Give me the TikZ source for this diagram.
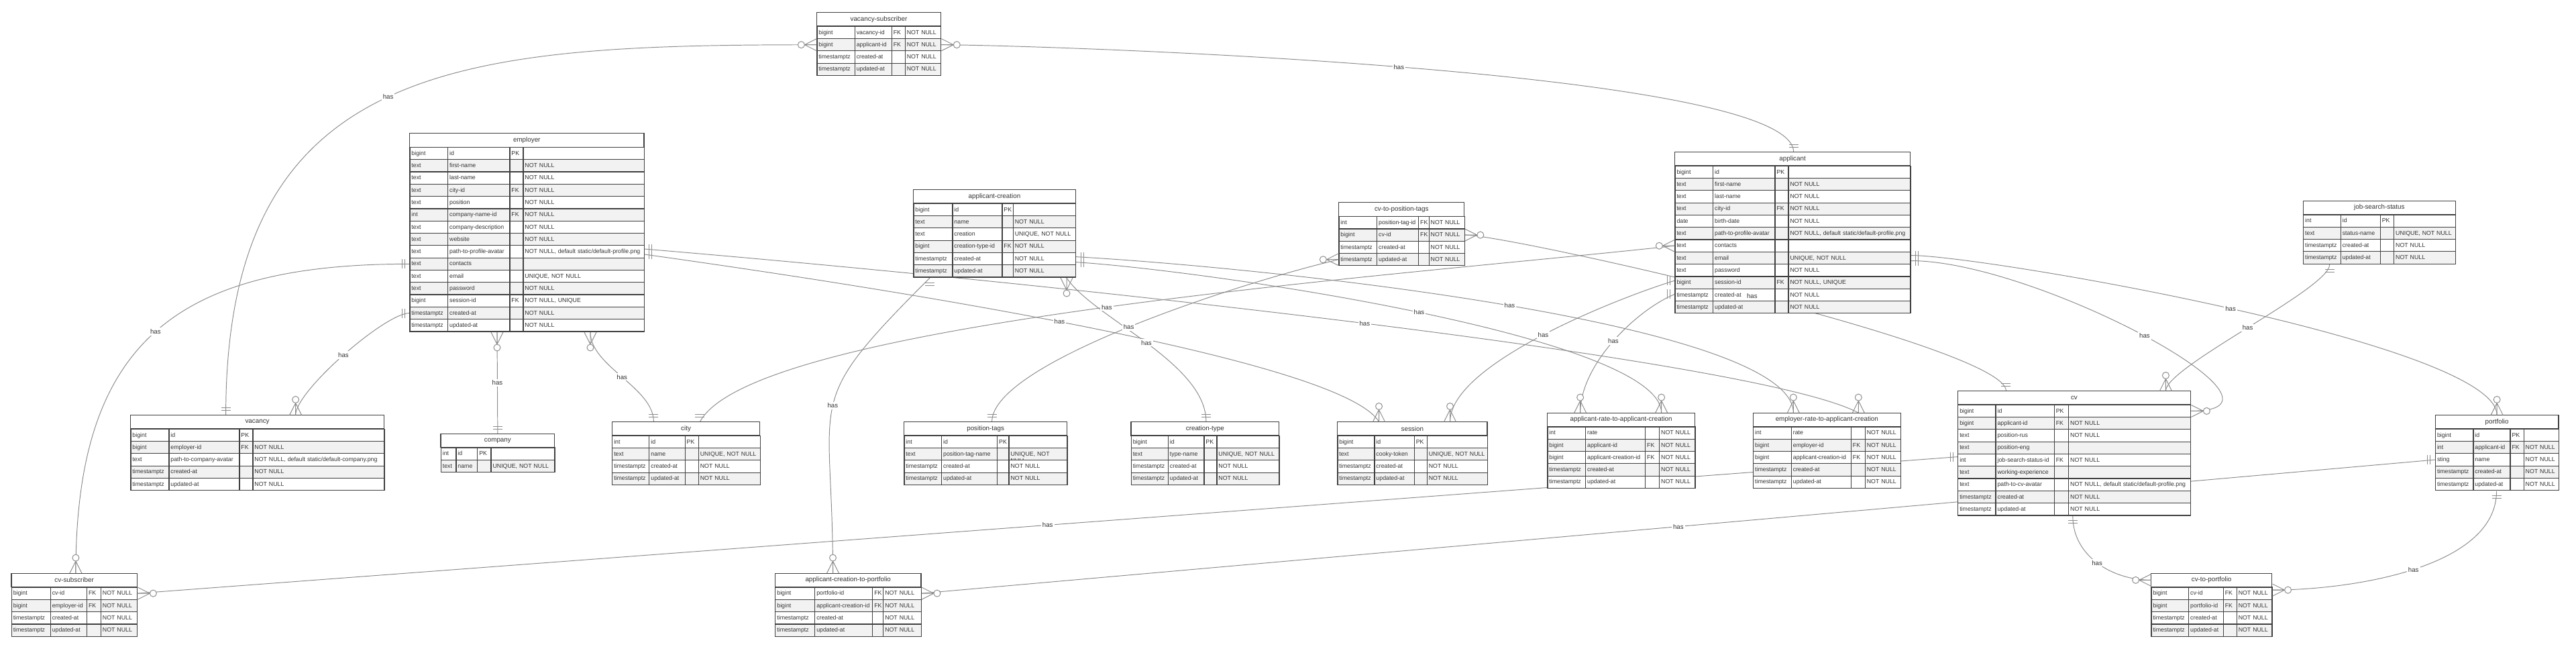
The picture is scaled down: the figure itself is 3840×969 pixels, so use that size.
\documentclass[tikz,border=0pt]{standalone}
\usepackage{fontspec}
\setmainfont{Liberation Sans}
\usetikzlibrary{matrix,calc}

\definecolor{tabline}{HTML}{404040}
\definecolor{rowfill}{HTML}{F2F2F2}
\definecolor{celltext}{HTML}{333333}
\definecolor{linkgray}{HTML}{8C8C8C}

\pgfdeclarelayer{bg}
\pgfsetlayers{bg,main}

\tikzset{
  cell/.style={draw=tabline, line width=0.7pt, text=celltext, font=\fontsize{5}{6}\selectfont,
    align=left, inner xsep=0.5mm, inner ysep=0pt, text height=2.36mm, text depth=1.3mm},
  every odd row/.style={nodes={fill=white}},
  every even row/.style={nodes={fill=rowfill}},
  ertable/.style={matrix of nodes, nodes in empty cells, anchor=north west, inner sep=0pt,
    column sep=-0.7pt, row sep=-0.7pt, nodes={cell}},
  cols/.style n args={4}{
    column 1/.style={nodes={text width={(#1-5)*0.2mm}}},
    column 2/.style={nodes={text width={(#2-5)*0.2mm}}},
    column 3/.style={nodes={text width={(#3-5)*0.2mm}}},
    column 4/.style={nodes={text width={(#4-5)*0.2mm}}}},
  erhead/.style={draw=tabline, line width=0.7pt, fill=white, text=celltext,
    font=\fontsize{5.6}{6.5}\selectfont, minimum width={#1*0.2mm}, minimum height=4.1mm,
    inner sep=0pt, outer sep=0pt, anchor=south west, shift={(0.35pt,-0.35pt)}},
  link/.style={draw=linkgray, line width=0.55pt},
  haslabel/.style={fill=white, text=celltext, font=\fontsize{5.5}{6}\selectfont, inner sep=0.4mm},
  crowone/.pic={\draw[link] (-7,-7) -- (-7,7) (-11,-7) -- (-11,7);},
  crowmany/.pic={\draw[link] (0,-9) -- (-18,0) -- (0,9) (-18,0) -- (0,0);
    \draw[link, fill=white] (-23,0) circle (5);}
}

\begin{document}
\begin{tikzpicture}[x=0.2mm, y=-0.2mm]

\useasboundingbox (0,0) rectangle (3840,969);

\matrix (vacsub) [ertable, cols={56.3}{55}{20}{53.4}] at (1217,38.3) {
bigint & vacancy-id & FK & NOT NULL \\
bigint & applicant-id & FK & NOT NULL \\
timestamptz & created-at & & NOT NULL \\
timestamptz & updated-at & & NOT NULL \\
};
\node (vacsub-head) [erhead=184.7] at (vacsub.north west) {vacancy-subscriber};

\matrix (employer) [ertable, cols={56.7}{92.3}{20}{180.3}] at (610,218.5) {
bigint & id & PK & \\
text & first-name & & NOT NULL \\
text & last-name & & NOT NULL \\
text & city-id & FK & NOT NULL \\
text & position & & NOT NULL \\
int & company-name-id & FK & NOT NULL \\
text & company-description & & NOT NULL \\
text & website & & NOT NULL \\
text & path-to-profile-avatar & & NOT NULL, default static/default-profile.png \\
text & contacts & & \\
text & email & & UNIQUE, NOT NULL \\
text & password & & NOT NULL \\
bigint & session-id & FK & NOT NULL, UNIQUE \\
timestamptz & created-at & & NOT NULL \\
timestamptz & updated-at & & NOT NULL \\
};
\node (employer-head) [erhead=349.3] at (employer.north west) {employer};

\matrix (appcreation) [ertable, cols={58}{74}{16.3}{93.3}] at (1361,302.3) {
bigint & id & PK & \\
text & name & & NOT NULL \\
text & creation & & UNIQUE, NOT NULL \\
bigint & creation-type-id & FK & NOT NULL \\
timestamptz & created-at & & NOT NULL \\
timestamptz & updated-at & & NOT NULL \\
};
\node (appcreation-head) [erhead=241.6] at (appcreation.north west) {applicant-creation};

\matrix (cvtags) [ertable, cols={56.7}{62}{15.5}{53}] at (1995,321.7) {
int & position-tag-id & FK & NOT NULL \\
bigint & cv-id & FK & NOT NULL \\
timestamptz & created-at & & NOT NULL \\
timestamptz & updated-at & & NOT NULL \\
};
\node (cvtags-head) [erhead=187.2] at (cvtags.north west) {cv-to-position-tags};

\matrix (applicant) [ertable, cols={56.7}{92.3}{20}{182}] at (2496,246.3) {
bigint & id & PK & \\
text & first-name & & NOT NULL \\
text & last-name & & NOT NULL \\
text & city-id & FK & NOT NULL \\
date & birth-date & & NOT NULL \\
text & path-to-profile-avatar & & NOT NULL, default static/default-profile.png \\
text & contacts & & \\
text & email & & UNIQUE, NOT NULL \\
text & password & & NOT NULL \\
bigint & session-id & FK & NOT NULL, UNIQUE \\
timestamptz & created-at & & NOT NULL \\
timestamptz & updated-at & & NOT NULL \\
};
\node (applicant-head) [erhead=351] at (applicant.north west) {applicant};

\matrix (jobstatus) [ertable, cols={55.6}{59}{20.4}{92}] at (3432.7,319) {
int & id & PK & \\
text & status-name & & UNIQUE, NOT NULL \\
timestamptz & created-at & & NOT NULL \\
timestamptz & updated-at & & NOT NULL \\
};
\node (jobstatus-head) [erhead=227] at (jobstatus.north west) {job-search-status};

\matrix (vacancy) [ertable, cols={57}{105}{20}{196}] at (194,638.3) {
bigint & id & PK & \\
bigint & employer-id & FK & NOT NULL \\
text & path-to-company-avatar & & NOT NULL, default static/default-company.png \\
timestamptz & created-at & & NOT NULL \\
timestamptz & updated-at & & NOT NULL \\
};
\node (vacancy-head) [erhead=378] at (vacancy.north west) {vacancy};

\matrix (company) [ertable, cols={22.6}{31.9}{20.2}{95}] at (656.4,666) {
int & id & PK & \\
text & name & & UNIQUE, NOT NULL \\
};
\node (company-head) [erhead=169.7] at (company.north west) {company};

\matrix (city) [ertable, cols={55.1}{53.3}{20.2}{91.8}] at (911.8,648.3) {
int & id & PK & \\
text & name & & UNIQUE, NOT NULL \\
timestamptz & created-at & & NOT NULL \\
timestamptz & updated-at & & NOT NULL \\
};
\node (city-head) [erhead=220.4] at (city.north west) {city};

\matrix (postags) [ertable, cols={55.7}{83}{17.4}{87}] at (1347,648.3) {
int & id & PK & \\
text & position-tag-name & & UNIQUE, NOT NULL \\
timestamptz & created-at & & NOT NULL \\
timestamptz & updated-at & & NOT NULL \\
};
\node (postags-head) [erhead=243.1] at (postags.north west) {position-tags};

\matrix (crtype) [ertable, cols={55.2}{53.4}{19.1}{93}] at (1685.3,648.3) {
bigint & id & PK & \\
text & type-name & & UNIQUE, NOT NULL \\
timestamptz & created-at & & NOT NULL \\
timestamptz & updated-at & & NOT NULL \\
};
\node (crtype-head) [erhead=220.7] at (crtype.north west) {creation-type};

\matrix (session) [ertable, cols={55.1}{59.3}{19.1}{90}] at (1992.9,648.3) {
bigint & id & PK & \\
text & cooky-token & & UNIQUE, NOT NULL \\
timestamptz & created-at & & NOT NULL \\
timestamptz & updated-at & & NOT NULL \\
};
\node (session-head) [erhead=223.5] at (session.north west) {session};

\matrix (aprate) [ertable, cols={56.7}{89}{21}{53.3}] at (2306,635) {
int & rate & & NOT NULL \\
bigint & applicant-id & FK & NOT NULL \\
bigint & applicant-creation-id & FK & NOT NULL \\
timestamptz & created-at & & NOT NULL \\
timestamptz & updated-at & & NOT NULL \\
};
\node (aprate-head) [erhead=220] at (aprate.north west) {applicant-rate-to-applicant-creation};

\matrix (emprate) [ertable, cols={56.7}{89}{21}{53.3}] at (2612.7,635) {
int & rate & & NOT NULL \\
bigint & employer-id & FK & NOT NULL \\
bigint & applicant-creation-id & FK & NOT NULL \\
timestamptz & created-at & & NOT NULL \\
timestamptz & updated-at & & NOT NULL \\
};
\node (emprate-head) [erhead=220] at (emprate.north west) {employer-rate-to-applicant-creation};

\matrix (cv) [ertable, cols={56.3}{87.2}{21.4}{182.1}] at (2917.8,602.3) {
bigint & id & PK & \\
bigint & applicant-id & FK & NOT NULL \\
text & position-rus & & NOT NULL \\
text & position-eng & & \\
int & job-search-status-id & FK & NOT NULL \\
text & working-experience & & \\
text & path-to-cv-avatar & & NOT NULL, default static/default-profile.png \\
timestamptz & created-at & & NOT NULL \\
timestamptz & updated-at & & NOT NULL \\
};
\node (cv-head) [erhead=347] at (cv.north west) {cv};

\matrix (portfolio) [ertable, cols={56.4}{55.1}{20.2}{52.2}] at (3629.5,638.3) {
bigint & id & PK & \\
int & applicant-id & FK & NOT NULL \\
sting & name & & NOT NULL \\
timestamptz & created-at & & NOT NULL \\
timestamptz & updated-at & & NOT NULL \\
};
\node (portfolio-head) [erhead=183.9] at (portfolio.north west) {portfolio};

\matrix (cvsub) [ertable, cols={58}{54.3}{20.9}{54.3}] at (16.3,874) {
bigint & cv-id & FK & NOT NULL \\
bigint & employer-id & FK & NOT NULL \\
timestamptz & created-at & & NOT NULL \\
timestamptz & updated-at & & NOT NULL \\
};
\node (cvsub-head) [erhead=187.5] at (cvsub.north west) {cv-subscriber};

\matrix (crport) [ertable, cols={58.9}{86}{16}{56.5}] at (1154.9,874) {
bigint & portfolio-id & FK & NOT NULL \\
bigint & applicant-creation-id & FK & NOT NULL \\
timestamptz & created-at & & NOT NULL \\
timestamptz & updated-at & & NOT NULL \\
};
\node (crport-head) [erhead=217.4] at (crport.north west) {applicant-creation-to-portfolio};

\matrix (cvport) [ertable, cols={55.7}{51.6}{20}{52.7}] at (3206,874) {
bigint & cv-id & FK & NOT NULL \\
bigint & portfolio-id & FK & NOT NULL \\
timestamptz & created-at & & NOT NULL \\
timestamptz & updated-at & & NOT NULL \\
};
\node (cvport-head) [erhead=180] at (cvport.north west) {cv-to-portfolio};

\coordinate (vs-l) at (vacsub-2-1.west);
\coordinate (vs-r) at (vacsub-2-4.east);
\coordinate (vac-a) at ($(vacancy-head.north west)+(142,0)$);
\coordinate (vac-b) at ($(vacancy-head.north west)+(246,0)$);
\coordinate (ap-top) at ($(applicant-head.north west)+(177,0)$);
\coordinate (em-l1) at (employer-10-1.west);
\coordinate (em-l2) at (employer-14-1.west);
\coordinate (em-b1) at ($(employer.south west)+(131,0)$);
\coordinate (em-b2) at ($(employer.south west)+(270,0)$);
\coordinate (em-r1) at ($(employer-9-4.east)+(0,-4)$);
\coordinate (em-r2) at ($(employer-9-4.east)+(0,4)$);
\coordinate (cs-top) at ($(cvsub-head.north west)+(96,0)$);
\coordinate (co-top) at (company-head.north);
\coordinate (ci-a) at ($(city-head.north west)+(62,0)$);
\coordinate (ci-b) at ($(city-head.north west)+(131,0)$);
\coordinate (se-a) at ($(session-head.north west)+(62,0)$);
\coordinate (se-b) at ($(session-head.north west)+(168,0)$);
\coordinate (er-a) at ($(emprate-head.north west)+(60,0)$);
\coordinate (er-b) at ($(emprate-head.north west)+(157,0)$);
\coordinate (ar-a) at ($(aprate-head.north west)+(49,0)$);
\coordinate (ar-b) at ($(aprate-head.north west)+(170,0)$);
\coordinate (ac-r1) at ($(appcreation-5-4.east)+(0,-3)$);
\coordinate (ac-r2) at ($(appcreation-5-4.east)+(0,5)$);
\coordinate (ac-b1) at ($(appcreation.south west)+(25,0)$);
\coordinate (ac-b2) at ($(appcreation.south west)+(229,0)$);
\coordinate (ct-top) at ($(crtype-head.north west)+(112,0)$);
\coordinate (cp-top) at ($(crport-head.north west)+(86,0)$);
\coordinate (pt-l) at (cvtags-4-1.west);
\coordinate (pt-r) at (cvtags-2-4.east);
\coordinate (ptg-top) at ($(postags-head.north west)+(131,0)$);
\coordinate (cv-a) at ($(cv-head.north west)+(72,0)$);
\coordinate (cv-c) at ($(cv-head.north west)+(310,0)$);
\coordinate (cv-r) at (cv-1-4.east);
\coordinate (cv-l) at ($(cv-5-1.west)+(0,-5)$);
\coordinate (cv-bot) at ($(cv.south west)+(172,0)$);
\coordinate (ap-l1) at (applicant-7-1.west);
\coordinate (ap-l2) at ($(applicant-10-1.west)+(0,-3)$);
\coordinate (ap-l3) at ($(applicant-11-1.west)+(0,-1)$);
\coordinate (ap-r1) at ($(applicant-8-4.east)+(0,-4)$);
\coordinate (ap-r2) at ($(applicant-8-4.east)+(0,4)$);
\coordinate (pf-top) at ($(portfolio-head.north west)+(92,0)$);
\coordinate (pf-l) at (portfolio-3-1.west);
\coordinate (pf-bot) at ($(portfolio.south west)+(92,0)$);
\coordinate (js-bot) at ($(jobstatus.south west)+(40,0)$);
\coordinate (cs-r) at (cvsub-1-4.east);
\coordinate (cp-r) at (crport-1-4.east);
\coordinate (cvp-l) at (cvport-head.west);
\coordinate (cvp-r) at ($(cvport-1-4.east)+(0,-5)$);

\begin{pgfonlayer}{bg}
\fill[white] (0,0) rectangle (3840,969);
\draw[link] (vs-l) .. controls +(-529,0) and +(0,-529) .. (vac-a) coordinate[pos=.5] (h1);
\draw[link] (vs-r) .. controls +(125,0) and +(0,-125) .. (ap-top) coordinate[pos=.5] (h2);
\draw[link] (em-l1) .. controls +(-346,0) and +(0,-346) .. (cs-top) coordinate[pos=.5] (h3);
\draw[link] (em-l2) .. controls +(-36,0) and +(0,-36) .. (vac-b) coordinate[pos=.5] (h4);
\draw[link] (em-b1) -- (co-top) coordinate[pos=.5] (h5);
\draw[link] (em-b2) .. controls +(0,51) and +(0,-51) .. (ci-a) coordinate[pos=.5] (h6);
\draw[link] (em-r2) .. controls +(250,35) and +(-60,-100) .. (se-a) coordinate[pos=.5] (h7);
\draw[link] (em-r1) .. controls +(600,50) and +(-150,-80) .. (er-b) coordinate[pos=.5] (h8);
\draw[link] (ac-r2) .. controls +(200,13) and +(0,-113) .. (ar-b) coordinate[pos=.5] (h9);
\draw[link] (ac-r1) .. controls +(298,17) and +(0,-133) .. (er-a) coordinate[pos=.5] (h10);
\draw[link] (ac-b2) .. controls +(40,60) and +(0,-88) .. (ct-top) coordinate[pos=.5] (h11);
\draw[link] (ac-b1) .. controls +(-193,193) and +(0,-273) .. (cp-top) coordinate[pos=.5] (h12);
\draw[link] (pt-l) .. controls +(-145,34) and +(0,-88) .. (ptg-top) coordinate[pos=.5] (h13);
\draw[link] (pt-r) .. controls +(66,0) and +(0,-66) .. (cv-a) coordinate[pos=.5] (h14);
\draw[link] (ap-l1) .. controls +(-400,44) and +(80,-150) .. (ci-b) coordinate[pos=.5] (h15);
\draw[link] (ap-l2) .. controls +(-76,23) and +(0,-88) .. (se-b) coordinate[pos=.5] (h16);
\draw[link] (ap-l3) .. controls +(-56,23) and +(0,-73) .. (ar-a) coordinate[pos=.5] (h17);
\draw[link] (ap-r2) .. controls +(186,0) and +(186,0) .. (cv-r) coordinate[pos=.5] (h18);
\draw[link] (ap-r1) .. controls +(106,0) and +(0,-106) .. (pf-top) coordinate[pos=.5] (h19);
\draw[link] (cv-c) .. controls +(0,-36) and +(0,36) .. (js-bot) coordinate[pos=.5] (h20);
\draw[link] (cs-r) -- (cv-l) coordinate[pos=.5] (h21);
\draw[link] (cp-r) -- (pf-l) coordinate[pos=.5] (h22);
\draw[link] (cv-bot) .. controls +(0,59) and +(-59,0) .. (cvp-l) coordinate[pos=.5] (h23);
\draw[link] (pf-bot) .. controls +(0,115) and +(115,0) .. (cvp-r) coordinate[pos=.5] (h24);
\end{pgfonlayer}

\foreach \h in {h1,h2,h3,h4,h5,h6,h7,h8,h9,h10,h11,h12,h13,h14,h15,h16,h17,h18,h19,h20,h21,h22,h23,h24}
  \node (lab-\h) [haslabel] at (\h) {has};

\foreach \p/\r in {vs-l/0, vs-r/180, vac-b/-90, cs-top/-90, em-b1/90, em-b2/90, se-a/-90, se-b/-90,
    er-a/-90, er-b/-90, ar-a/-90, ar-b/-90, ac-b2/90, cp-top/-90, pt-l/0, pt-r/180, ap-l1/0,
    cv-r/180, pf-top/-90, cv-c/-90, cs-r/180, cp-r/180, cvp-l/0, cvp-r/180}
  \pic[rotate=\r] at (\p) {crowmany};

\foreach \p/\r in {vac-a/-90, ap-top/-90, em-l1/0, em-l2/0, co-top/-90, ci-a/-90, ci-b/-90,
    em-r1/180, em-r2/180, ac-r1/180, ac-r2/180, ac-b1/90, ct-top/-90, ptg-top/-90, cv-a/-90,
    ap-l2/0, ap-l3/0, ap-r1/180, ap-r2/180, js-bot/90, cv-l/0, pf-l/0, cv-bot/90, pf-bot/90}
  \pic[rotate=\r] at (\p) {crowone};

\end{tikzpicture}
\end{document}
